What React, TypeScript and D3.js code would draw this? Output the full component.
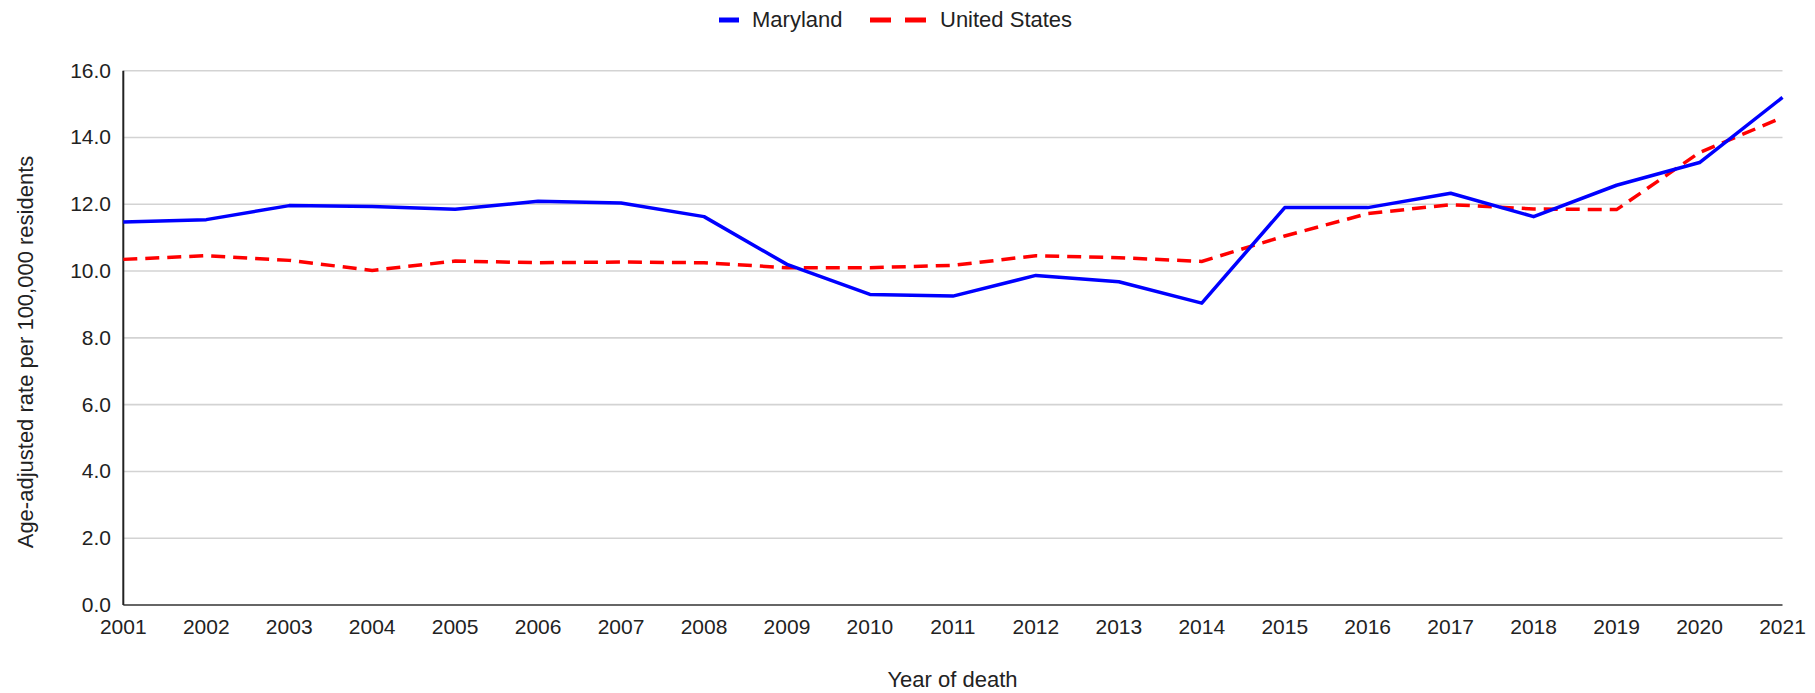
import React from "react";
import * as d3 from "d3";

const years = [2001, 2002, 2003, 2004, 2005, 2006, 2007, 2008, 2009, 2010, 2011, 2012, 2013, 2014, 2015, 2016, 2017, 2018, 2019, 2020, 2021];
const maryland = [11.47, 11.54, 11.96, 11.93, 11.85, 12.09, 12.04, 11.63, 10.2, 9.3, 9.25, 9.87, 9.68, 9.04, 11.9, 11.9, 12.33, 11.63, 12.57, 13.25, 15.2];
const unitedStates = [10.35, 10.46, 10.32, 10.02, 10.3, 10.25, 10.27, 10.25, 10.1, 10.1, 10.17, 10.46, 10.4, 10.29, 11.05, 11.72, 11.99, 11.86, 11.84, 13.55, 14.6];
const yTicks = [0, 2, 4, 6, 8, 10, 12, 14, 16];
const seriesNames = ["Maryland", "United States"];
const yTitle = "Age-adjusted rate per 100,000 residents";
const xTitle = "Year of death";

const W = 1815;
const H = 693;
const FONT = "'Liberation Sans', Arial, sans-serif";

export default function App() {
  const left = 123.3;
  const right = 1782.5;
  const top = 70.7;
  const bottom = 605;
  const x = d3.scaleLinear().domain([2001, 2021]).range([left, right]);
  const y = d3.scaleLinear().domain([0, 16]).range([bottom, top]);
  const line = d3
    .line<number>()
    .x((_, i) => x(years[i]))
    .y((d) => y(d));
  const textColor = "#222";

  return (
    <svg
      width={W}
      height={H}
      style={{ position: "absolute", left: 0, top: 0, background: "#fff" }}
      fontFamily={FONT}
    >
      <rect x={0} y={0} width={W} height={H} fill="#fff" />
      {yTicks.map((t) =>
        t === 0 ? null : (
          <line key={"g" + t} x1={left} x2={right} y1={y(t)} y2={y(t)} stroke="#d3d3d3" strokeWidth={1.6} />
        )
      )}
      {yTicks.map((t) => (
        <text key={"yt" + t} x={111} y={y(t) + 7} textAnchor="end" fontSize={21} fill={textColor}>
          {t.toFixed(1)}
        </text>
      ))}
      {years.map((yr) => (
        <text key={"xt" + yr} x={x(yr)} y={634} textAnchor="middle" fontSize={21} fill={textColor}>
          {yr}
        </text>
      ))}
      <line x1={left} x2={right} y1={bottom} y2={bottom} stroke="#666" strokeWidth={2} />
      <line x1={left} x2={left} y1={top} y2={bottom} stroke="#222" strokeWidth={2} />
      <path d={line(unitedStates) || ""} fill="none" stroke="#ff0000" strokeWidth={3.5} strokeDasharray="14,8" />
      <path d={line(maryland) || ""} fill="none" stroke="#0000ff" strokeWidth={3.5} strokeLinejoin="round" />
      <text x={952.5} y={687} textAnchor="middle" fontSize={22} fill={textColor}>
        {xTitle}
      </text>
      <text
        transform={`translate(33, 352) rotate(-90)`}
        textAnchor="middle"
        fontSize={22}
        fill={textColor}
      >
        {yTitle}
      </text>
      <line x1={719} x2={739} y1={20} y2={20} stroke="#0000ff" strokeWidth={5} />
      <text x={752} y={27} fontSize={22} fill={textColor}>
        {seriesNames[0]}
      </text>
      <line x1={870} x2={891} y1={20} y2={20} stroke="#ff0000" strokeWidth={5} />
      <line x1={905} x2={926} y1={20} y2={20} stroke="#ff0000" strokeWidth={5} />
      <text x={940} y={27} fontSize={22} fill={textColor}>
        {seriesNames[1]}
      </text>
    </svg>
  );
}
